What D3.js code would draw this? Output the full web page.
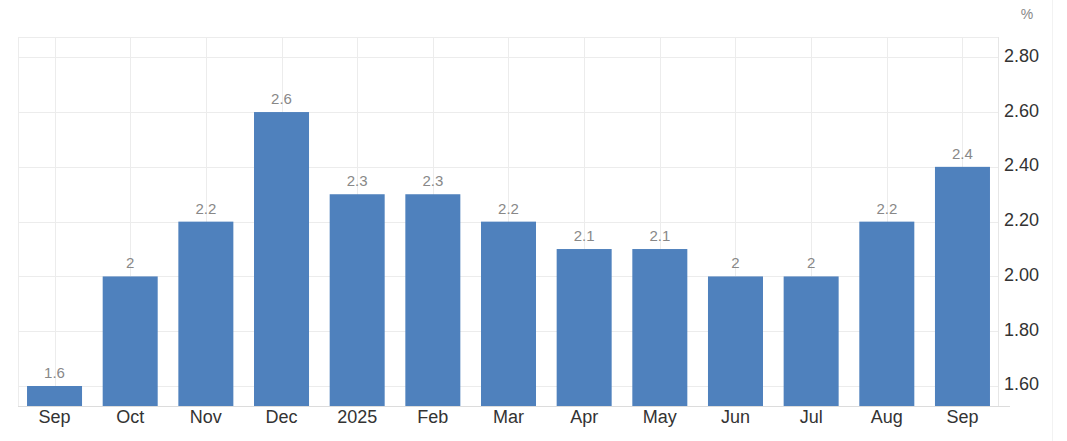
<!DOCTYPE html>
<html><head><meta charset="utf-8">
<script src="https://cdn.jsdelivr.net/npm/d3@7"></script>
<style>body{margin:0;background:#fff}svg{display:block;font-family:"Liberation Sans",Arial,sans-serif}</style>
</head><body><svg id="c" width="1067" height="441"></svg>
<script>
const categories = ["Sep","Oct","Nov","Dec","2025","Feb","Mar","Apr","May","Jun","Jul","Aug","Sep"];
const values = [1.6, 2, 2.2, 2.6, 2.3, 2.3, 2.2, 2.1, 2.1, 2, 2, 2.2, 2.4];
const valueLabels = ["1.6","2","2.2","2.6","2.3","2.3","2.2","2.1","2.1","2","2","2.2","2.4"];
const yTicks = [1.6, 1.8, 2.0, 2.2, 2.4, 2.6, 2.8];

(function(){
const svg = d3.select("#c");
const pL = 18, pR = 998, pT = 37, pB = 406;
const keys = categories.map((c,i)=>i);
const x = d3.scaleBand().domain(keys).range([16.7, 1000.3]).paddingInner(0.273).paddingOuter(0.1365);
const y = d3.scaleLinear().domain([1.527, 2.874]).range([pB, pT]);

const g = svg.append("g");
// grid
g.selectAll(".hg").data(yTicks).join("line")
  .attr("x1", pL).attr("x2", pR).attr("y1", d=>Math.round(y(d))+0.5).attr("y2", d=>Math.round(y(d))+0.5)
  .attr("stroke", "#ececec").attr("stroke-width", 1);
g.selectAll(".vg").data(keys).join("line")
  .attr("x1", d=>Math.round(x(d)+x.bandwidth()/2)+0.5).attr("x2", d=>Math.round(x(d)+x.bandwidth()/2)+0.5)
  .attr("y1", pT).attr("y2", pB).attr("stroke", "#ececec");
g.append("line").attr("x1", pL).attr("x2", pR).attr("y1", pT+0.5).attr("y2", pT+0.5).attr("stroke", "#ececec");
g.append("line").attr("x1", pL+0.5).attr("x2", pL+0.5).attr("y1", pT).attr("y2", pB).attr("stroke", "#ececec");
g.append("line").attr("x1", pR+0.5).attr("x2", pR+0.5).attr("y1", pT).attr("y2", pB).attr("stroke", "#e6e6e6");
g.append("line").attr("x1", 1052.5).attr("x2", 1052.5).attr("y1", 0).attr("y2", 441).attr("stroke", "#f2f2f2");

// bars
g.selectAll(".bar").data(values).join("rect")
  .attr("x", (d,i)=>x(i)).attr("width", x.bandwidth())
  .attr("y", d=>y(d)).attr("height", d=>y.range()[0]-y(d))
  .attr("fill", "#4f81bd");

// bottom axis line
g.append("line").attr("x1", pL).attr("x2", 1010).attr("y1", pB+0.5).attr("y2", pB+0.5).attr("stroke", "#dcdcdc");

// value labels
g.selectAll(".vl").data(values).join("text")
  .attr("x", (d,i)=>x(i)+x.bandwidth()/2).attr("y", d=>y(d)-8)
  .attr("text-anchor", "middle").attr("font-size", 15).attr("fill", "#888")
  .text((d,i)=>valueLabels[i]);

// x labels
const xa = d3.axisBottom(x).tickFormat(i=>categories[i]).tickSize(0).tickPadding(0);
const xg = g.append("g").attr("transform", `translate(0,${pB})`).call(xa);
xg.select(".domain").remove();
xg.selectAll("text").attr("font-size", 18).attr("fill", "#333").attr("dy", null).attr("y", 17).attr("font-family", '"Liberation Sans",Arial,sans-serif');

// y labels
const ya = d3.axisRight(y).tickValues(yTicks).tickFormat(d3.format(".2f")).tickSize(0).tickPadding(0);
const yg = g.append("g").attr("transform", `translate(1004,0)`).call(ya);
yg.select(".domain").remove();
yg.selectAll("text").attr("font-size", 18).attr("fill", "#333").attr("dy", "0.22em").attr("x", 0).attr("font-family", '"Liberation Sans",Arial,sans-serif');

svg.append("text").attr("x", 1027).attr("y", 19).attr("text-anchor", "middle").attr("font-size", 14).attr("fill", "#888").text("%");
})();
</script></body></html>
